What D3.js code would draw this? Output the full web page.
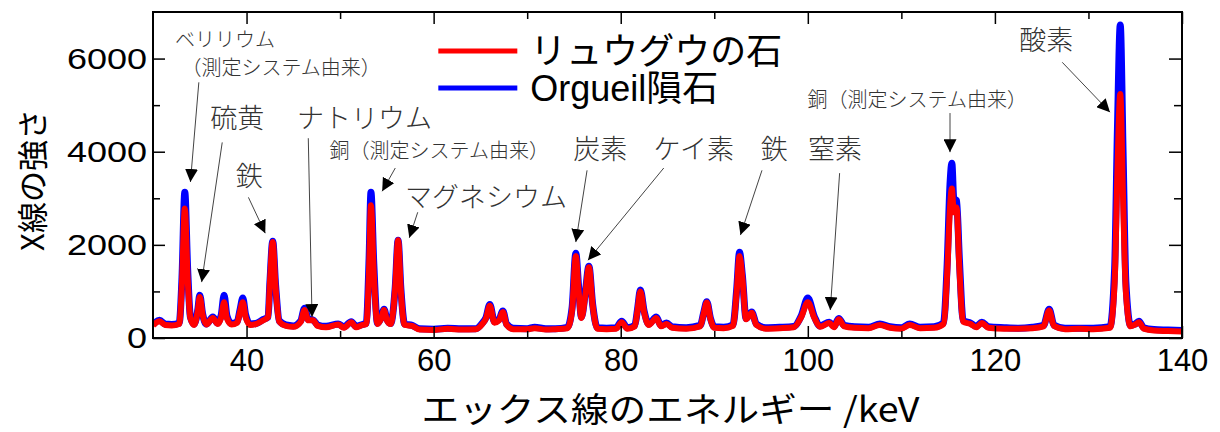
<!DOCTYPE html>
<html>
<head>
<meta charset="utf-8">
<script src="https://cdn.jsdelivr.net/npm/d3@7"></script>
<style>
  body { margin: 0; background: #fff; }
  svg { display: block; }
  text { font-family: "Liberation Sans", Arial, "Noto Sans CJK JP", sans-serif; }
  .jp { font-family: "Noto Sans CJK JP", sans-serif; }
</style>
</head>
<body>
<div id="chart-area"></div>
<script>
// energy axis (keV) shared by both spectra
const energy = [
  30.0, 30.7, 31.3, 32.0, 32.8, 33.1, 33.4, 33.7, 34.0, 34.4, 34.8, 35.0, 35.3, 35.7, 36.4, 36.9,
  37.3, 37.6, 37.9, 38.4, 39.0, 39.3, 39.6, 39.9, 40.4, 41.0, 41.8, 42.3, 42.5, 42.8, 43.1, 43.5,
  44.2, 45.0, 45.8, 46.2, 46.6, 47.1, 47.6, 48.5, 49.8, 50.4, 51.2, 51.7, 52.4, 52.8, 53.1, 53.3,
  53.6, 54.0, 54.4, 54.7, 55.0, 55.4, 55.9, 56.2, 56.5, 56.9, 57.7, 58.5, 60.0, 61.5, 63.0, 64.5,
  65.2, 65.6, 66.0, 66.5, 67.0, 67.4, 67.8, 68.5, 70.0, 70.8, 72.0, 73.0, 74.3, 74.8, 75.2, 75.5,
  75.8, 76.2, 76.6, 77.0, 77.5, 78.5, 79.5, 80.1, 80.7, 81.5, 81.8, 82.1, 82.5, 83.0, 83.8, 84.3,
  84.9, 85.5, 87.0, 88.5, 88.9, 89.2, 89.6, 90.0, 91.0, 92.0, 92.4, 92.7, 93.0, 93.4, 94.0, 94.5,
  95.5, 97.0, 98.5, 99.3, 100.0, 100.7, 101.3, 102.3, 102.8, 103.3, 103.9, 105.0, 106.5, 107.7, 108.8, 110.0,
  110.9, 112.0, 113.5, 114.5, 114.9, 115.2, 115.4, 115.6, 115.9, 116.2, 116.6, 117.4, 118.0, 118.6, 119.3, 121.0,
  122.5, 124.0, 125.2, 125.8, 126.3, 127.5, 129.0, 130.5, 132.3, 132.8, 133.1, 133.4, 133.7, 134.0, 134.5, 135.0,
  135.4, 135.9, 137.0, 138.5, 140.0
];

// リュウグウの石 (red)
const ryugu = [
  270, 360, 280, 270, 300, 1200, 2780, 1300, 420, 280, 600, 880, 500, 290, 430, 300,
  450, 770, 420, 290, 330, 560, 770, 450, 280, 300, 380, 450, 1200, 2060, 1100, 350,
  260, 240, 350, 600, 380, 380, 260, 230, 290, 220, 340, 230, 280, 300, 1500, 2850,
  1400, 300, 420, 600, 380, 300, 1100, 2100, 1000, 280, 260, 180, 170, 200, 180, 190,
  300, 420, 690, 330, 380, 560, 280, 190, 190, 210, 180, 190, 210, 600, 1760, 1000,
  430, 900, 1520, 700, 200, 190, 200, 340, 200, 250, 600, 1000, 550, 280, 430, 250,
  300, 220, 200, 250, 550, 760, 400, 220, 210, 260, 1000, 1760, 1300, 400, 540, 280,
  200, 210, 230, 450, 770, 430, 240, 320, 230, 400, 250, 220, 210, 280, 220, 200,
  280, 210, 220, 300, 1400, 2800, 3210, 2700, 2800, 1500, 350, 300, 230, 320, 220, 200,
  200, 210, 250, 590, 260, 190, 200, 190, 220, 1200, 3600, 5240, 3000, 1000, 250, 290,
  340, 200, 160, 150, 140
];

// Orgueil隕石 (blue)
const orgueil = [
  290, 380, 300, 290, 320, 1300, 3130, 1500, 450, 300, 620, 920, 520, 300, 450, 320,
  500, 920, 480, 310, 350, 600, 860, 500, 300, 310, 400, 450, 1200, 2080, 1150, 370,
  280, 260, 370, 640, 400, 390, 280, 250, 300, 240, 350, 250, 290, 320, 1700, 3130,
  1600, 320, 440, 620, 400, 310, 1100, 2100, 1050, 300, 270, 200, 190, 210, 200, 200,
  320, 440, 720, 350, 400, 580, 300, 210, 200, 230, 200, 200, 230, 650, 1820, 1100,
  450, 950, 1540, 720, 220, 210, 220, 360, 220, 270, 620, 1030, 580, 300, 450, 270,
  320, 240, 220, 270, 570, 780, 420, 240, 230, 280, 1050, 1840, 1350, 420, 560, 300,
  220, 230, 250, 480, 860, 460, 260, 340, 250, 420, 270, 240, 230, 300, 240, 220,
  300, 230, 240, 320, 1600, 3300, 3750, 3000, 2950, 1700, 380, 320, 250, 340, 240, 220,
  210, 230, 270, 620, 280, 210, 210, 210, 240, 1500, 4500, 6720, 4000, 1200, 270, 300,
  360, 220, 180, 170, 160
];

const xMajorTicks = [40, 60, 80, 100, 120, 140];
const xMinorTicks = [50, 70, 90, 110, 130];
const yMajorTicks = [0, 2000, 4000, 6000];
const yMinorTicks = [1000, 3000, 5000];

const seriesNames = ['リュウグウの石', 'Orgueil隕石'];

// annotation labels, placed in data units (keV, counts)
const notes = [
  { text: 'ベリリウム', at: [37.7, 6430], size: 20 },
  { text: '（測定システム由来）', at: [43.7, 5830], size: 20, from: [34.9, 5490], to: [34.0, 3350] },
  { text: '硫黄', at: [39.0, 4760], size: 27, from: [37.4, 4200], to: [35.2, 1200] },
  { text: 'ナトリウム', at: [52.6, 4760], size: 27, from: [46.6, 4290], to: [47.0, 450] },
  { text: '鉄', at: [40.3, 3520], size: 27, from: [40.2, 3020], to: [42.0, 2250] },
  { text: '銅（測定システム由来）', at: [60.6, 4050], size: 20, from: [55.9, 3650], to: [54.5, 3150] },
  { text: 'マグネシウム', at: [65.6, 3070], size: 27, from: [58.3, 2700], to: [57.4, 2150] },
  { text: '炭素', at: [77.8, 4080], size: 27, from: [76.4, 3600], to: [75.2, 2060] },
  { text: 'ケイ素', at: [87.8, 4080], size: 27, from: [84.6, 3650], to: [76.5, 1670] },
  { text: '鉄', at: [96.4, 4080], size: 27, from: [95.1, 3600], to: [92.8, 2210] },
  { text: '窒素', at: [102.9, 4080], size: 27, from: [103.4, 3540], to: [102.4, 600] },
  { text: '銅（測定システム由来）', at: [111.7, 5150], size: 20, from: [115.2, 4830], to: [115.2, 3990] },
  { text: '酸素', at: [125.5, 6430], size: 27, from: [127.2, 5920], to: [132.3, 4850] }
];

const W = 1220, H = 432;
const margin = { top: 12, right: 38, bottom: 94, left: 153 };
const width = W - margin.left - margin.right;
const height = H - margin.top - margin.bottom;

const root = d3.select('#chart-area').append('svg')
  .attr('width', W).attr('height', H);
const svg = root.append('g')
  .attr('transform', `translate(${margin.left}, ${margin.top})`);

const x = d3.scaleLinear().domain([30, 140]).range([0, width]);
const y = d3.scaleLinear().domain([0, 7000]).range([height, 0]);

root.append('defs').append('clipPath').attr('id', 'plot-clip')
  .append('rect').attr('width', width).attr('height', height);

root.select('defs').append('marker')
  .attr('id', 'head')
  .attr('viewBox', '0 0 10 10')
  .attr('refX', 10).attr('refY', 5)
  .attr('markerWidth', 13).attr('markerHeight', 13)
  .attr('markerUnits', 'userSpaceOnUse')
  .attr('orient', 'auto')
  .append('path').attr('d', 'M0,0 L10,5 L0,10 z').attr('fill', '#000');

// spectra
const line = vals => d3.line()
  .x((d, i) => x(energy[i]))
  .y(d => y(d))
  .curve(d3.curveMonotoneX)(vals);

const plot = svg.append('g').attr('clip-path', 'url(#plot-clip)');
plot.append('path')
  .attr('d', line(orgueil))
  .attr('fill', 'none').attr('stroke', '#0000ff')
  .attr('stroke-width', 7).attr('stroke-linejoin', 'round');
plot.append('path')
  .attr('d', line(ryugu))
  .attr('fill', 'none').attr('stroke', '#ff0000')
  .attr('stroke-width', 6).attr('stroke-linejoin', 'round');

// axes, ticks pointing inward on all four sides
const addAxis = (gen, transform) => {
  const g = svg.append('g').attr('transform', transform).call(gen);
  g.select('.domain').remove();
  g.selectAll('line').attr('stroke', '#000').attr('stroke-width', 1.5);
  return g;
};
const noLabel = () => '';

const xb = addAxis(d3.axisBottom(x).tickValues(xMajorTicks).tickSize(-12).tickPadding(11), `translate(0, ${height})`);
xb.selectAll('text').attr('font-size', 31).attr('fill', '#000');
addAxis(d3.axisBottom(x).tickValues(xMinorTicks).tickSize(-7).tickFormat(noLabel), `translate(0, ${height})`);
addAxis(d3.axisTop(x).tickValues(xMajorTicks).tickSize(-12).tickFormat(noLabel), 'translate(0, 0)');
addAxis(d3.axisTop(x).tickValues(xMinorTicks).tickSize(-7).tickFormat(noLabel), 'translate(0, 0)');

const yl = addAxis(d3.axisLeft(y).tickValues(yMajorTicks).tickSize(-12).tickPadding(5).tickFormat(d3.format('d')), 'translate(0, 0)');
yl.selectAll('text').attr('font-size', 30).attr('fill', '#000').attr('transform', 'scale(1.2, 1)');
addAxis(d3.axisLeft(y).tickValues(yMinorTicks).tickSize(-7).tickFormat(noLabel), 'translate(0, 0)');
addAxis(d3.axisRight(y).tickValues(yMajorTicks).tickSize(-13).tickFormat(noLabel), `translate(${width}, 0)`);
addAxis(d3.axisRight(y).tickValues(yMinorTicks).tickSize(-8).tickFormat(noLabel), `translate(${width}, 0)`);

svg.append('rect')
  .attr('width', width).attr('height', height)
  .attr('fill', 'none').attr('stroke', '#000').attr('stroke-width', 2);

// axis titles
svg.append('text')
  .attr('class', 'jp')
  .attr('x', width / 2 + 3)
  .attr('y', height + 84)
  .attr('text-anchor', 'middle')
  .attr('font-size', 34)
  .attr('textLength', 498)
  .attr('lengthAdjust', 'spacingAndGlyphs')
  .text('エックス線のエネルギー /keV');

svg.append('text')
  .attr('class', 'jp')
  .attr('transform', `translate(${-123}, ${168}) rotate(-90)`)
  .attr('text-anchor', 'middle')
  .attr('dominant-baseline', 'central')
  .attr('font-size', 31)
  .text('X線の強さ');

// legend
const legend = svg.append('g').attr('transform', `translate(${x(60.5)}, 0)`);
[['#ff0000', 39], ['#0000ff', 76]].forEach(([c, ly], i) => {
  legend.append('line')
    .attr('x1', 0).attr('x2', 79).attr('y1', ly).attr('y2', ly)
    .attr('stroke', c).attr('stroke-width', 5);
  legend.append('text')
    .attr('x', 92).attr('y', ly)
    .attr('dominant-baseline', 'central')
    .attr('font-size', 36)
    .text(seriesNames[i]);
});

// annotations
const ann = svg.append('g');
notes.forEach(n => {
  ann.append('text')
    .attr('class', 'jp')
    .attr('x', x(n.at[0])).attr('y', y(n.at[1]))
    .attr('text-anchor', 'middle')
    .attr('dominant-baseline', 'central')
    .attr('font-size', n.size)
    .attr('font-weight', 300)
    .attr('fill', '#333')
    .text(n.text);
  if (n.from) {
    ann.append('line')
      .attr('x1', x(n.from[0])).attr('y1', y(n.from[1]))
      .attr('x2', x(n.to[0])).attr('y2', y(n.to[1]))
      .attr('stroke', '#444').attr('stroke-width', 1)
      .attr('marker-end', 'url(#head)');
  }
});
</script>
</body>
</html>
